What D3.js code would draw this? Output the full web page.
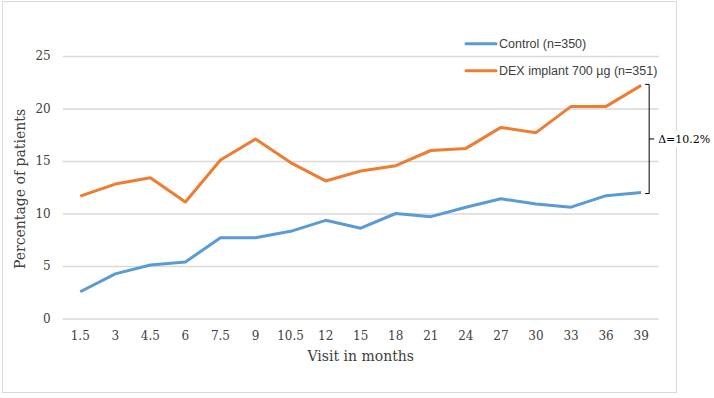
<!DOCTYPE html>
<html>
<head>
<meta charset="utf-8">
<script src="https://cdn.jsdelivr.net/npm/d3@7"></script>
<style>
  body { margin: 0; background: #fff; }
  svg { display: block; }
</style>
</head>
<body>
<div id="canvas"></div>
<script>
"use strict"

let months = ["1.5","3","4.5","6","7.5","9","10.5","12","15","18","21","24","27","30","33","36","39"]
let controlVals = [2.55,4.25,5.1,5.38,7.7,7.7,8.3,9.35,8.6,10.0,9.7,10.6,11.4,10.9,10.6,11.7,12.0]
let dexVals = [11.65,12.8,13.4,11.1,15.1,17.1,14.85,13.1,14.05,14.55,16.0,16.2,18.2,17.7,20.2,20.2,22.2]
let yTicks = [0,5,10,15,20,25]
let seriesNames = ["Control (n=350)","DEX implant 700 \u00b5g (n=351)"]
let seriesColors = ["#5b9bd5","#ed7d31"]

let svgWidth = 714
let svgHeight = 398
let serif = "'DejaVu Serif', Georgia, serif"

let drawing = d3.select("#canvas")
    .append("svg")
    .attr("width", svgWidth)
    .attr("height", svgHeight)

// outer chart border
drawing.append("rect")
    .attr("x", 2.5)
    .attr("y", 1.5)
    .attr("width", 674)
    .attr("height", 391)
    .attr("fill", "white")
    .attr("stroke", "#d9d9d9")

let plotLeft = 62.7, plotRight = 658.7
let x = d3.scaleBand().domain(months).range([plotLeft, plotRight]).padding(0)
let y = d3.scaleLinear().domain([0, 25]).range([318.5, 56])
let cx = d => x(d) + x.bandwidth() / 2

// gridlines + y labels
let yAxis = drawing.append("g")
    .attr("transform", `translate(${plotLeft},0)`)
    .call(d3.axisLeft(y).tickValues(yTicks).tickSize(-(plotRight - plotLeft)).tickPadding(12))
yAxis.select(".domain").remove()
yAxis.selectAll(".tick line").attr("stroke", "#d9d9d9").attr("stroke-width", 1.5)
yAxis.selectAll(".tick text")
    .attr("font-family", serif)
    .attr("font-size", 12)
    .attr("fill", "#404040")

// x labels
let xAxis = drawing.append("g")
    .attr("transform", `translate(0,${y(0)})`)
    .call(d3.axisBottom(x).tickSize(0).tickPadding(13))
xAxis.select(".domain").remove()
xAxis.selectAll(".tick text")
    .attr("font-family", serif)
    .attr("font-size", 12)
    .attr("fill", "#404040")

// axis titles
drawing.append("text")
    .attr("x", (plotLeft + plotRight) / 2)
    .attr("y", 361)
    .attr("text-anchor", "middle")
    .attr("font-family", serif)
    .attr("font-size", 14)
    .attr("fill", "#404040")
    .text("Visit in months")

drawing.append("text")
    .attr("transform", "translate(25,189) rotate(-90)")
    .attr("text-anchor", "middle")
    .attr("font-family", serif)
    .attr("font-size", 14)
    .attr("fill", "#404040")
    .text("Percentage of patients")

// lines
let line = d3.line().x((d, i) => cx(months[i])).y(d => y(d))
;[controlVals, dexVals].forEach((vals, k) => {
    drawing.append("path")
        .attr("d", line(vals))
        .attr("fill", "none")
        .attr("stroke", seriesColors[k])
        .attr("stroke-width", 3)
        .attr("stroke-linejoin", "round")
})

// legend
seriesNames.forEach((name, k) => {
    let ly = 43.7 + k * 27
    drawing.append("line")
        .attr("x1", 466).attr("x2", 496)
        .attr("y1", ly).attr("y2", ly)
        .attr("stroke", seriesColors[k])
        .attr("stroke-width", 3)
        .attr("stroke-linecap", "round")
    drawing.append("text")
        .attr("x", 499)
        .attr("y", ly)
        .attr("dy", "0.35em")
        .attr("font-family", "'Liberation Sans', Arial, sans-serif")
        .attr("font-size", 12.5)
        .attr("fill", "#404040")
        .text(name)
})

// difference bracket
let last = months[months.length - 1]
let topY = y(dexVals[dexVals.length - 1]) - 1
let botY = y(controlVals[controlVals.length - 1]) + 1
let bx = cx(last) + 8
drawing.append("path")
    .attr("d", `M${bx - 4},${topY}H${bx}V${botY}H${bx - 4}M${bx},${(topY + botY) / 2}H${bx + 5}`)
    .attr("fill", "none")
    .attr("stroke", "black")
    .attr("stroke-width", 1)

let delta = (dexVals[dexVals.length - 1] - controlVals[controlVals.length - 1]).toFixed(1)
drawing.append("rect")
    .attr("x", bx + 8)
    .attr("y", (topY + botY) / 2 - 8)
    .attr("width", 52)
    .attr("height", 16)
    .attr("fill", "white")
drawing.append("text")
    .attr("x", bx + 9)
    .attr("y", (topY + botY) / 2)
    .attr("dy", "0.35em")
    .attr("font-family", serif)
    .attr("font-size", 11)
    .attr("fill", "black")
    .text(`\u0394=${delta}%`)
</script>
</body>
</html>
